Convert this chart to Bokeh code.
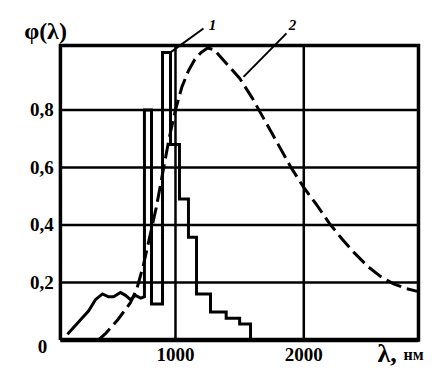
from bokeh.plotting import figure
from bokeh.models import Range1d
from bokeh.core.properties import value
from bokeh.embed import file_html
from bokeh.resources import INLINE

# ---- data ----
# curve 1 (solid): continuum + line structure + staircase
curve1_x = [158, 260, 322, 376, 431, 478, 517, 571, 610, 649, 688, 730, 758,
            758, 813, 813, 899, 899, 961, 961, 1031, 1031, 1101, 1101, 1164,
            1164, 1273, 1273, 1395, 1395, 1500, 1500, 1585, 1585]
curve1_y = [0.02, 0.07, 0.10, 0.14, 0.16, 0.15, 0.15, 0.165, 0.155, 0.14, 0.155, 0.145, 0.15,
            0.80, 0.80, 0.125, 0.125, 1.0, 1.0, 0.68, 0.68, 0.49, 0.49, 0.357, 0.357,
            0.16, 0.16, 0.097, 0.097, 0.075, 0.075, 0.055, 0.055, 0.0]

# curve 2 (dashed)
curve2_x = [400, 450, 500, 550, 600, 650, 700, 750, 800, 850, 900, 950, 1000, 1050,
            1100, 1150, 1200, 1250, 1300, 1350, 1400, 1500, 1600, 1700, 1800, 1900,
            2000, 2100, 2200, 2300, 2400, 2500, 2600, 2700, 2800, 2894]
curve2_y = [0.0, 0.02, 0.045, 0.07, 0.10, 0.13, 0.18, 0.26, 0.36, 0.46, 0.58, 0.70, 0.80, 0.88,
            0.935, 0.975, 1.0, 1.015, 1.01, 0.985, 0.96, 0.91, 0.84, 0.76, 0.68, 0.60,
            0.53, 0.47, 0.405, 0.35, 0.30, 0.255, 0.22, 0.195, 0.178, 0.168]

x_ticks = [1000, 2000]
x_tick_labels = ["1000", "2000"]
y_ticks = [0.2, 0.4, 0.6, 0.8]
y_tick_labels = ["0,2", "0,4", "0,6", "0,8"]

x_min, x_max = 103, 2894
y_min, y_max = 0.0, 1.024

# curve labels and leader lines
curve_labels = ["1", "2"]
label_x = [1288, 1912]
label_y = [1.094, 1.094]
leader_x = [[1218, 961], [1865, 1530]]
leader_y = [[1.083, 1.0], [1.066, 0.915]]

FONT = "Liberation Serif"

p = figure(width=448, height=383,
           x_range=Range1d(-364, 3128), y_range=Range1d(-0.1517, 1.1805),
           x_axis_location=None, y_axis_location=None,
           output_backend="svg", toolbar_location=None,
           min_border=0)
p.title.visible = False
p.outline_line_color = None
p.grid.visible = False
p.background_fill_color = "white"
p.border_fill_color = "white"

# grid lines inside the frame
p.segment(x0=[x_min] * len(y_ticks), y0=y_ticks, x1=[x_max] * len(y_ticks), y1=y_ticks,
          line_color="black", line_width=2.5)
p.segment(x0=x_ticks, y0=[y_min] * len(x_ticks), x1=x_ticks, y1=[y_max] * len(x_ticks),
          line_color="black", line_width=2.5)

# frame
p.line([x_min, x_max, x_max, x_min, x_min], [y_min, y_min, y_max, y_max, y_min],
       line_color="black", line_width=3.5, line_join="miter")
p.line([x_min, x_max], [y_min, y_min], line_color="black", line_width=4.5)

# curves
p.line(curve2_x, curve2_y, line_color="black", line_width=3, line_dash="16 6")
p.line(curve1_x, curve1_y, line_color="black", line_width=3, line_join="miter")

# leaders
for lx, ly in zip(leader_x, leader_y):
    p.line(lx, ly, line_color="black", line_width=2)

# tick labels
p.text(x=x_ticks, y=[-0.05] * len(x_ticks), text=x_tick_labels,
       text_font=value(FONT), text_font_style="bold", text_font_size="19px",
       text_align="center", text_baseline="middle", text_color="black")
p.text(x=[52] * len(y_ticks), y=y_ticks, text=y_tick_labels,
       text_font=value(FONT), text_font_style="bold", text_font_size="19px",
       text_align="right", text_baseline="middle", text_color="black")
p.text(x=[-37], y=[-0.023], text=["0"],
       text_font=value(FONT), text_font_style="bold", text_font_size="19px",
       text_align="center", text_baseline="middle", text_color="black")

# curve labels
p.text(x=label_x, y=label_y, text=curve_labels,
       text_font=value(FONT), text_font_style="bold italic", text_font_size="15px",
       text_align="center", text_baseline="middle", text_color="black")

# axis titles
p.text(x=[-13], y=[1.073], text=["φ(λ)"],
       text_font=value(FONT), text_font_style="bold", text_font_size="24px",
       text_align="center", text_baseline="middle", text_color="black")
p.text(x=[2574], y=[-0.047], text=["λ,"],
       text_font=value(FONT), text_font_style="bold", text_font_size="26px",
       text_align="left", text_baseline="middle", text_color="black")
p.text(x=[2777], y=[-0.05], text=["нм"],
       text_font=value(FONT), text_font_style="bold", text_font_size="16px",
       text_align="left", text_baseline="middle", text_color="black")

open("out.html", "w").write(file_html(p, INLINE))
